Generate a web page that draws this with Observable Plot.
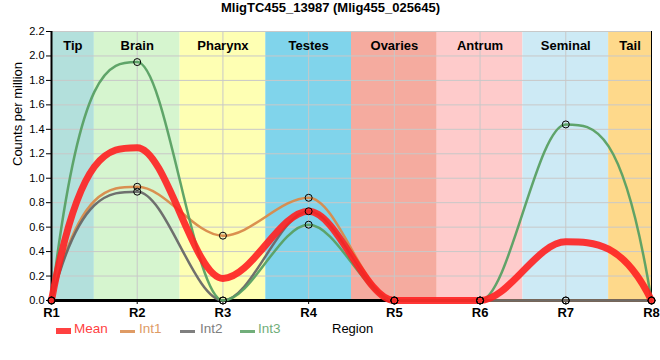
<!DOCTYPE html>
<html>
<head>
<meta charset="utf-8">
<script src="https://cdn.jsdelivr.net/npm/d3@7"></script>
<script src="https://cdn.jsdelivr.net/npm/@observablehq/plot@0.6"></script>
<style>
  body { margin: 0; background: #fff; }
  #wrap { position: relative; width: 660px; height: 360px; font-family: "Liberation Sans", Arial, sans-serif; }
  #title { position: absolute; left: 0; top: 0; width: 661px; text-align: center; font-weight: bold; font-size: 13px; line-height: 16px; color: #000; }
  #chart { position: absolute; left: 0; top: 22px; }
  .lg { position: absolute; top: 321px; font-size: 13.5px; line-height: 16px; white-space: nowrap; }
  .sw { position: absolute; }
</style>
</head>
<body>
<div id="wrap">
  <div id="title"></div>
  <div id="chart"></div>
  <div id="legend"></div>
</div>
<script>
const title = "MligTC455_13987 (Mlig455_025645)";
const regions = ["R1", "R2", "R3", "R4", "R5", "R6", "R7", "R8"];
const tissues = ["Tip", "Brain", "Pharynx", "Testes", "Ovaries", "Antrum", "Seminal", "Tail"];
const tissueColors = ["#b3e0dc", "#d6f5cf", "#feffb3", "#80d4eb", "#f5ab9f", "#fecbcb", "#cdeaf5", "#fed98b"];
const meanValues = [0, 1.25, 0.18, 0.73, 0, 0, 0.48, 0];
const int1Values = [0, 0.93, 0.53, 0.84, 0, 0, 0, 0];
const int2Values = [0, 0.89, 0, 0.73, 0, 0, 0, 0];
const int3Values = [0, 1.95, 0, 0.62, 0, 0, 1.44, 0];
const seriesNames = ["Mean", "Int1", "Int2", "Int3"];
const seriesColors = ["#ff2020", "#d98a4a", "#686868", "#58a063"];
const yTicks = [0, 0.2, 0.4, 0.6, 0.8, 1.0, 1.2, 1.4, 1.6, 1.8, 2.0, 2.2];
const yLabel = "Counts per million";
const xLabel = "Region";

document.getElementById("title").textContent = title;

// Monotone cubic curve whose end tangents are steeper (3x the end secant)
function monotoneSteepEnds(context) {
  let X = [], Y = [];
  return {
    areaStart() {}, areaEnd() {},
    lineStart() { X = []; Y = []; },
    point(x, y) { X.push(+x); Y.push(+y); },
    lineEnd() {
      const n = X.length;
      if (!n) return;
      context.moveTo(X[0], Y[0]);
      if (n === 1) return;
      if (n === 2) { context.lineTo(X[1], Y[1]); return; }
      const h = [], s = [], m = new Array(n);
      for (let i = 0; i < n - 1; i++) { h[i] = X[i + 1] - X[i]; s[i] = (Y[i + 1] - Y[i]) / h[i]; }
      for (let i = 1; i < n - 1; i++) {
        const p = (s[i - 1] * h[i] + s[i] * h[i - 1]) / (h[i - 1] + h[i]);
        m[i] = (Math.sign(s[i - 1]) + Math.sign(s[i])) * Math.min(Math.abs(s[i - 1]), Math.abs(s[i]), 0.5 * Math.abs(p)) || 0;
      }
      const end = (sv, t) => { const v = 3 * sv - t; return Math.sign(v) === Math.sign(sv) ? v : 0; };
      m[0] = end(s[0], m[1]);
      m[n - 1] = end(s[n - 2], m[n - 2]);
      for (let i = 0; i < n - 1; i++) {
        const d = h[i] / 3;
        context.bezierCurveTo(X[i] + d, Y[i] + d * m[i], X[i + 1] - d, Y[i + 1] - d * m[i + 1], X[i + 1], Y[i + 1]);
      }
    }
  };
}

const n = regions.length;
const bands = tissues.map((t, k) => {
  const i = k + 1;
  const x1 = Math.max(1, i - 0.5), x2 = Math.min(n, i + 0.5);
  return {name: t, x1, x2, xc: (x1 + x2) / 2, color: tissueColors[k]};
});
const toPts = (vals, s) => vals.map((v, k) => ({x: k + 1, y: v, s}));
const intPts = [
  ...toPts(int1Values, "Int1"),
  ...toPts(int2Values, "Int2"),
  ...toPts(int3Values, "Int3")
];
const meanPts = toPts(meanValues, "Mean");
const xs = regions.map((r, k) => k + 1);
const font = '"Liberation Sans", Arial, sans-serif';

const chart = Plot.plot({
  width: 660,
  height: 338,
  marginLeft: 51,
  marginRight: 9,
  marginTop: 9,
  marginBottom: 60,
  style: {fontFamily: font, background: "transparent", color: "#000"},
  x: {domain: [1, n]},
  y: {domain: [0, 2.2]},
  color: {domain: seriesNames, range: seriesColors},
  marks: [
    Plot.rect(bands, {x1: "x1", x2: "x2", fill: "color"}),
    Plot.ruleY(yTicks, {stroke: "#c8c8c8", strokeWidth: 1}),
    Plot.ruleX(xs, {stroke: "#c8c8c8", strokeWidth: 1}),
    Plot.text(bands, {x: "xc", text: "name", frameAnchor: "top", dy: 9, fontWeight: "bold", fontSize: 13, fill: "#000"}),
    Plot.axisY({ticks: yTicks, tickFormat: d3.format(".1f"), tickSize: 5, tickPadding: 2, fontSize: 11, label: null}),
    Plot.axisX({ticks: xs, tickFormat: d => regions[d - 1], tickSize: 4, tickPadding: 3, fontSize: 13, fontWeight: "bold", label: null}),
    Plot.text([yLabel], {frameAnchor: "left", rotate: -90, dx: -34, fontSize: 13, fill: "#000"}),
    Plot.ruleX([1], {stroke: "#000", strokeWidth: 2}),
    Plot.ruleX([n], {stroke: "#000", strokeWidth: 1}),
    Plot.ruleY([0], {stroke: "#000", strokeWidth: 3}),
    Plot.line(intPts, {x: "x", y: "y", z: "s", stroke: "s", strokeWidth: 2.5, curve: monotoneSteepEnds, strokeOpacity: 0.95}),
    Plot.line(meanPts, {x: "x", y: "y", stroke: "s", strokeWidth: 7, curve: monotoneSteepEnds, strokeOpacity: 0.9}),
    Plot.dot(intPts, {x: "x", y: "y", r: 3.5, stroke: "#000", strokeWidth: 1, fill: "none"})
  ]
});
document.getElementById("chart").appendChild(chart);

// Legend
const legend = document.getElementById("legend");
const items = [
  {name: "Mean", sw: [56, 15, 6], tx: 74},
  {name: "Int1", sw: [120, 15, 3], tx: 139},
  {name: "Int2", sw: [180, 15, 3], tx: 200},
  {name: "Int3", sw: [240, 15, 3], tx: 258}
];
items.forEach(it => {
  const col = seriesColors[seriesNames.indexOf(it.name)];
  const sw = document.createElement("div");
  sw.className = "sw";
  sw.style.left = it.sw[0] + "px";
  sw.style.width = it.sw[1] + "px";
  sw.style.height = it.sw[2] + "px";
  sw.style.top = (331 - it.sw[2] / 2) + "px";
  sw.style.background = col;
  sw.style.opacity = 0.85;
  legend.appendChild(sw);
  const t = document.createElement("div");
  t.className = "lg";
  t.style.left = it.tx + "px";
  t.style.color = col;
  t.style.opacity = 0.85;
  t.textContent = it.name;
  legend.appendChild(t);
});
const xl = document.createElement("div");
xl.className = "lg";
xl.style.left = "332px";
xl.style.fontSize = "13px";
xl.textContent = xLabel;
legend.appendChild(xl);
</script>
</body>
</html>
